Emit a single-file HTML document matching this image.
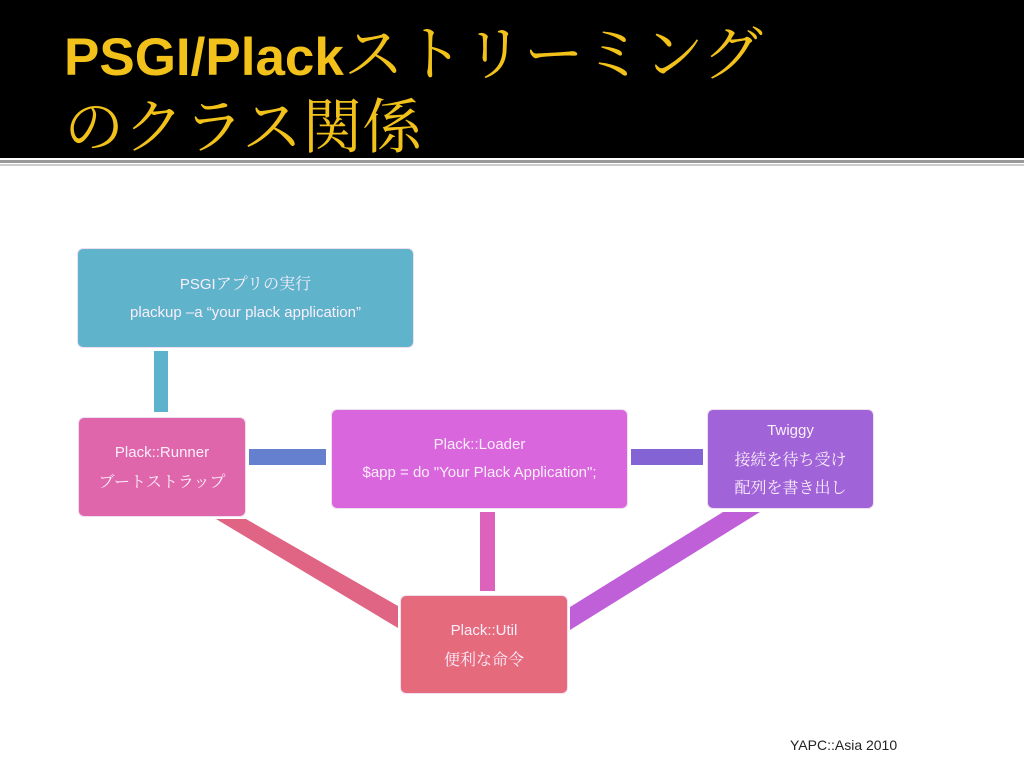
<!DOCTYPE html>
<html><head><meta charset="utf-8"><style>
body{margin:0;width:1024px;height:768px;background:#fff;overflow:hidden;position:relative;font-family:"Liberation Sans","Noto Sans CJK JP",sans-serif}
.hdr{position:absolute;left:0;top:0;width:1024px;height:158px;background:#000}
.t{position:absolute;left:64px;color:#f2c21a;line-height:70px;white-space:nowrap}
.box{position:absolute;border:1.5px solid #f0dff0;border-radius:6px;box-sizing:border-box;color:#fbeefb;text-align:center;display:flex;flex-direction:column;justify-content:center;font-size:15px;line-height:28px}
.jp{font-family:"Noto Serif CJK SC","Noto Sans CJK JP",serif;font-size:16px}
</style></head><body>
<div class="hdr"></div>
<div class="t" style="top:15px;font-weight:bold;font-size:53px">PSGI/Plack<span style="font-weight:normal;font-family:'Noto Serif CJK SC',serif;font-size:60px">ストリーミング</span></div>
<div class="t" style="top:88px;font-family:'Noto Serif CJK SC',serif;font-size:60px">のクラス関係</div>
<div style="position:absolute;left:0;top:160px;width:1024px;height:3px;background:#999"></div>
<div style="position:absolute;left:0;top:164px;width:1024px;height:2px;background:#ccc"></div>
<svg width="1024" height="768" style="position:absolute;left:0;top:0">
<rect x="154" y="351" width="14" height="61" fill="#5cb3cb"/>
<rect x="249" y="449" width="77" height="16" fill="#6680d0"/>
<rect x="631" y="449" width="72" height="16" fill="#8464d4"/>
<rect x="480" y="512" width="15" height="79" fill="#dc62bc"/>
<polygon points="216,519 246,519 398,606 398,628" fill="#e06484"/>
<polygon points="723,512 760,512 570,630 570,607" fill="#c060d8"/>
</svg>
<div class="box" style="left:77px;top:248px;width:337px;height:100px;background:#5fb4cc"><div><span>PSGI</span><span class="jp">アプリの実行</span></div><div>plackup –a “your plack application”</div></div>
<div class="box" style="left:78px;top:417px;width:168px;height:100px;background:#e066ac"><div>Plack::Runner</div><div class="jp">ブートストラップ</div></div>
<div class="box" style="left:331px;top:409px;width:297px;height:100px;background:#d966dd"><div>Plack::Loader</div><div>$app = do "Your Plack Application";</div></div>
<div class="box" style="left:707px;top:409px;width:167px;height:100px;background:#a064d8"><div>Twiggy</div><div class="jp">接続を待ち受け</div><div class="jp">配列を書き出し</div></div>
<div class="box" style="left:400px;top:595px;width:168px;height:99px;background:#e56a7c"><div>Plack::Util</div><div class="jp">便利な命令</div></div>
<div style="position:absolute;left:790px;top:737px;font-size:14px;color:#222">YAPC::Asia 2010</div>
</body></html>
